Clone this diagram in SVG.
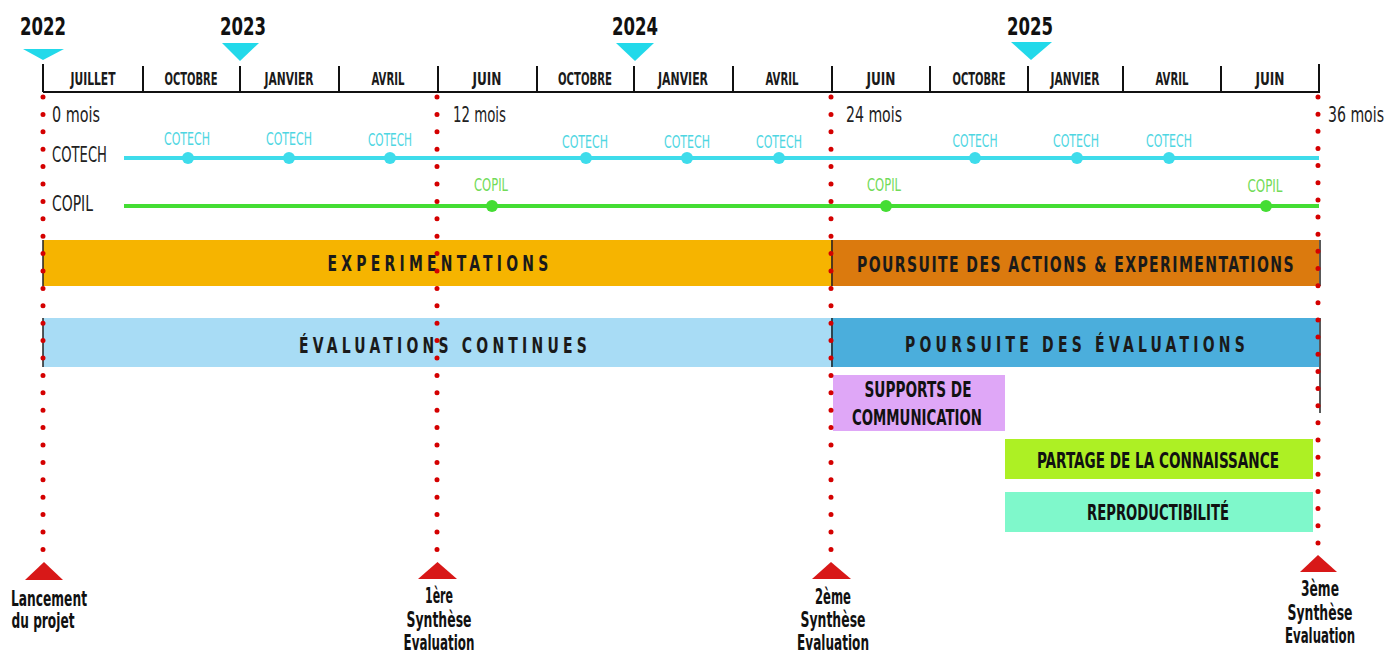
<svg xmlns="http://www.w3.org/2000/svg" width="1389" height="654" viewBox="0 0 1389 654">
<style>
text{font-family:"Liberation Sans Narrow","DejaVu Sans Condensed","DejaVu Sans",sans-serif;}
.yr{font-size:25px;font-weight:bold;fill:#111;text-anchor:middle}
.mo{font-size:17px;font-weight:bold;fill:#1a1a1a;text-anchor:middle}
.lb{font-size:21px;fill:#222}
.ct{font-size:18px;fill:#4ED6E2;text-anchor:middle}
.cp{font-size:18px;fill:#72DB58;text-anchor:middle}
.bt{font-size:22px;font-weight:bold;fill:#1a1a1a;text-anchor:middle}
.ms{font-size:22px;font-weight:bold;fill:#111;text-anchor:middle}
.tick{stroke:#111;stroke-width:2}
.edge{stroke:#222;stroke-width:1.5}
.ytri{fill:#22D9EA}
.rtri{fill:#D81818}
.dot{stroke:#D40000;stroke-width:5;stroke-linecap:round;fill:none}
</style>

<g id="years">
<text class="yr" x="43" y="35" textLength="46" lengthAdjust="spacingAndGlyphs">2022</text>
<text class="yr" x="243" y="35" textLength="46" lengthAdjust="spacingAndGlyphs">2023</text>
<text class="yr" x="635" y="35" textLength="46" lengthAdjust="spacingAndGlyphs">2024</text>
<text class="yr" x="1030" y="35" textLength="46" lengthAdjust="spacingAndGlyphs">2025</text>
<polygon class="ytri" points="23,49 64,49 43,60"/>
<polygon class="ytri" points="222,43 259,43 240,61"/>
<polygon class="ytri" points="616,43 654,43 635,61"/>
<polygon class="ytri" points="1011,42 1052,42 1031,60"/>
</g>

<g id="axis">
<line x1="43" y1="92" x2="1320" y2="92" class="tick"/>
<line x1="43" y1="64" x2="43" y2="92" class="tick"/>
<line x1="143" y1="66" x2="143" y2="92" class="tick"/>
<line x1="240" y1="66" x2="240" y2="92" class="tick"/>
<line x1="339" y1="66" x2="339" y2="92" class="tick"/>
<line x1="438" y1="66" x2="438" y2="92" class="tick"/>
<line x1="537" y1="66" x2="537" y2="92" class="tick"/>
<line x1="634" y1="66" x2="634" y2="92" class="tick"/>
<line x1="733" y1="66" x2="733" y2="92" class="tick"/>
<line x1="832" y1="66" x2="832" y2="92" class="tick"/>
<line x1="930" y1="66" x2="930" y2="92" class="tick"/>
<line x1="1028" y1="66" x2="1028" y2="92" class="tick"/>
<line x1="1123" y1="66" x2="1123" y2="92" class="tick"/>
<line x1="1221" y1="66" x2="1221" y2="92" class="tick"/>
<line x1="1319" y1="64" x2="1319" y2="92" class="tick"/>
<text class="mo" x="93" y="85" textLength="45" lengthAdjust="spacingAndGlyphs">JUILLET</text>
<text class="mo" x="191" y="85" textLength="53" lengthAdjust="spacingAndGlyphs">OCTOBRE</text>
<text class="mo" x="289" y="85" textLength="49" lengthAdjust="spacingAndGlyphs">JANVIER</text>
<text class="mo" x="388" y="85" textLength="33" lengthAdjust="spacingAndGlyphs">AVRIL</text>
<text class="mo" x="487" y="85" textLength="29" lengthAdjust="spacingAndGlyphs">JUIN</text>
<text class="mo" x="585" y="85" textLength="54" lengthAdjust="spacingAndGlyphs">OCTOBRE</text>
<text class="mo" x="683" y="85" textLength="50" lengthAdjust="spacingAndGlyphs">JANVIER</text>
<text class="mo" x="782" y="85" textLength="33" lengthAdjust="spacingAndGlyphs">AVRIL</text>
<text class="mo" x="881" y="85" textLength="29" lengthAdjust="spacingAndGlyphs">JUIN</text>
<text class="mo" x="979" y="85" textLength="53" lengthAdjust="spacingAndGlyphs">OCTOBRE</text>
<text class="mo" x="1075" y="85" textLength="49" lengthAdjust="spacingAndGlyphs">JANVIER</text>
<text class="mo" x="1172" y="85" textLength="33" lengthAdjust="spacingAndGlyphs">AVRIL</text>
<text class="mo" x="1270" y="85" textLength="29" lengthAdjust="spacingAndGlyphs">JUIN</text>
</g>

<g id="months-count">
<text class="lb" x="52" y="122" textLength="48" lengthAdjust="spacingAndGlyphs">0 mois</text>
<text class="lb" x="453" y="122" textLength="53" lengthAdjust="spacingAndGlyphs">12 mois</text>
<text class="lb" x="846" y="122" textLength="56" lengthAdjust="spacingAndGlyphs">24 mois</text>
<text class="lb" x="1328" y="122" textLength="56" lengthAdjust="spacingAndGlyphs">36 mois</text>
</g>

<g id="bars">
<g id="experimentations">
<rect x="43" y="240" width="788" height="46" fill="#F6B400"/>
<text class="bt" x="440" y="271" textLength="225" lengthAdjust="spacingAndGlyphs" letter-spacing="6">EXPERIMENTATIONS</text>
</g>
<g id="poursuite-actions">
<rect x="831" y="240" width="488" height="46" fill="#DB7A0E"/>
<text class="bt" x="1076" y="272" textLength="438" lengthAdjust="spacingAndGlyphs" letter-spacing="2">POURSUITE DES ACTIONS &amp; EXPERIMENTATIONS</text>
</g>
<g id="evaluation-continues">
<rect x="43" y="318" width="788" height="49" fill="#A8DCF5"/>
<text class="bt" x="445" y="353" textLength="292" lengthAdjust="spacingAndGlyphs" letter-spacing="6">ÉVALUATIONS CONTINUES</text>
</g>
<g id="poursuite-evaluations">
<rect x="831" y="318" width="488" height="49" fill="#4BAEDC"/>
<text class="bt" x="1077" y="352" textLength="344" lengthAdjust="spacingAndGlyphs" letter-spacing="6">POURSUITE DES ÉVALUATIONS</text>
</g>
<g id="supports">
<rect x="833" y="375" width="172" height="56" fill="#DFA7F7"/>
<text class="ms" x="918" y="397" textLength="107" lengthAdjust="spacingAndGlyphs">SUPPORTS DE</text>
<text class="ms" x="917" y="425" textLength="130" lengthAdjust="spacingAndGlyphs">COMMUNICATION</text>
</g>
<g id="partage">
<rect x="1005" y="439" width="308" height="40" fill="#ADF024"/>
<text class="ms" x="1158" y="468" textLength="242" lengthAdjust="spacingAndGlyphs">PARTAGE DE LA CONNAISSANCE</text>
</g>
<g id="reproductibilite">
<rect x="1005" y="492" width="308" height="40" fill="#7FF8CB"/>
<text class="ms" x="1158" y="520" textLength="142" lengthAdjust="spacingAndGlyphs">REPRODUCTIBILITÉ</text>
</g>
<line class="edge" x1="43" y1="240" x2="43" y2="286"/>
<line class="edge" x1="43" y1="318" x2="43" y2="367"/>
<line class="edge" x1="832" y1="240" x2="832" y2="286"/>
<line class="edge" x1="832" y1="318" x2="832" y2="367"/>
<line class="edge" x1="1320" y1="240" x2="1320" y2="286"/>
<line class="edge" x1="1320" y1="318" x2="1320" y2="413"/>
</g>

<g id="connectors">
<line class="dot" x1="43" y1="97" x2="43" y2="550" stroke-dasharray="0 17.4"/>
<line class="dot" x1="437" y1="97" x2="437" y2="550" stroke-dasharray="0 17.4"/>
<line class="dot" x1="831" y1="97" x2="831" y2="550" stroke-dasharray="0 17.4"/>
<line class="dot" x1="1318" y1="97" x2="1318" y2="543" stroke-dasharray="0 17.15"/>
</g>

<g id="cotech">
<text class="lb" x="52" y="162" textLength="55" lengthAdjust="spacingAndGlyphs">COTECH</text>
<line x1="124" y1="158" x2="1319" y2="158" stroke="#3EDCEB" stroke-width="4"/>
<g fill="#3EDCEB">
<circle cx="188" cy="158" r="6"/><circle cx="289" cy="158" r="6"/><circle cx="390" cy="158" r="6"/>
<circle cx="586" cy="158" r="6"/><circle cx="687" cy="158" r="6"/><circle cx="779" cy="158" r="6"/>
<circle cx="975" cy="158" r="6"/><circle cx="1077" cy="158" r="6"/><circle cx="1169" cy="158" r="6"/>
</g>
<text class="ct" x="187" y="145" textLength="46" lengthAdjust="spacingAndGlyphs">COTECH</text>
<text class="ct" x="289" y="145" textLength="46" lengthAdjust="spacingAndGlyphs">COTECH</text>
<text class="ct" x="390" y="146" textLength="44" lengthAdjust="spacingAndGlyphs">COTECH</text>
<text class="ct" x="585" y="148" textLength="46" lengthAdjust="spacingAndGlyphs">COTECH</text>
<text class="ct" x="687" y="148" textLength="46" lengthAdjust="spacingAndGlyphs">COTECH</text>
<text class="ct" x="779" y="148" textLength="46" lengthAdjust="spacingAndGlyphs">COTECH</text>
<text class="ct" x="975" y="147" textLength="45" lengthAdjust="spacingAndGlyphs">COTECH</text>
<text class="ct" x="1076" y="147" textLength="46" lengthAdjust="spacingAndGlyphs">COTECH</text>
<text class="ct" x="1169" y="147" textLength="46" lengthAdjust="spacingAndGlyphs">COTECH</text>
</g>

<g id="copil">
<text class="lb" x="52" y="211" textLength="41" lengthAdjust="spacingAndGlyphs">COPIL</text>
<line x1="124" y1="206" x2="1319" y2="206" stroke="#44DD33" stroke-width="4"/>
<g fill="#44DD33">
<circle cx="492" cy="206" r="6"/><circle cx="886" cy="206" r="6"/><circle cx="1266" cy="206" r="6"/>
</g>
<text class="cp" x="491" y="191" textLength="34" lengthAdjust="spacingAndGlyphs">COPIL</text>
<text class="cp" x="884" y="191" textLength="34" lengthAdjust="spacingAndGlyphs">COPIL</text>
<text class="cp" x="1265" y="192" textLength="35" lengthAdjust="spacingAndGlyphs">COPIL</text>
</g>

<g id="milestone-0">
<polygon class="rtri" points="25,580 63,580 44,562"/>
<text class="ms" x="49" y="606" textLength="76" lengthAdjust="spacingAndGlyphs">Lancement</text>
<text class="ms" x="43" y="628" textLength="63" lengthAdjust="spacingAndGlyphs">du projet</text>
</g>
<g id="milestone-12">
<polygon class="rtri" points="418,579 457,579 437.5,562"/>
<text class="ms" x="439" y="603" textLength="28" lengthAdjust="spacingAndGlyphs">1ère</text>
<text class="ms" x="439" y="627" textLength="65" lengthAdjust="spacingAndGlyphs">Synthèse</text>
<text class="ms" x="439" y="650" textLength="71" lengthAdjust="spacingAndGlyphs">Evaluation</text>
</g>
<g id="milestone-24">
<polygon class="rtri" points="812,579 851,579 831,562"/>
<text class="ms" x="833" y="604" textLength="36" lengthAdjust="spacingAndGlyphs">2ème</text>
<text class="ms" x="833" y="627" textLength="65" lengthAdjust="spacingAndGlyphs">Synthèse</text>
<text class="ms" x="833" y="650" textLength="72" lengthAdjust="spacingAndGlyphs">Evaluation</text>
</g>
<g id="milestone-36">
<polygon class="rtri" points="1300,572 1337,572 1318,555"/>
<text class="ms" x="1320" y="596" textLength="38" lengthAdjust="spacingAndGlyphs">3ème</text>
<text class="ms" x="1320" y="620" textLength="65" lengthAdjust="spacingAndGlyphs">Synthèse</text>
<text class="ms" x="1320" y="643" textLength="70" lengthAdjust="spacingAndGlyphs">Evaluation</text>
</g>
</svg>
